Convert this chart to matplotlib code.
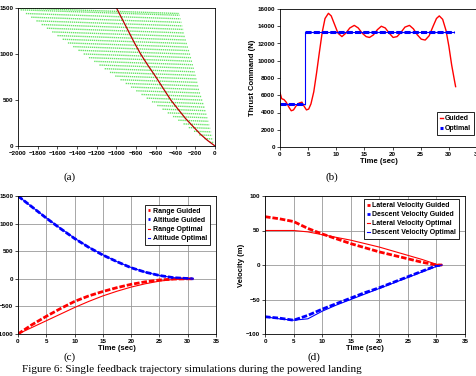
import matplotlib
matplotlib.use('Agg')
import matplotlib.pyplot as plt
import numpy as np

plt.rcParams['font.family'] = 'Liberation Sans'
plt.rcParams['font.size'] = 5
plt.rcParams['font.weight'] = 'bold'

# (a) glide-slope cone and trajectory
cone_top = 1500
cone_left_top = -2000
cone_right_top = -380
stripe_alt = [40, 80, 120, 160, 200, 240, 280, 320, 360, 400, 440, 480, 520,
              560, 600, 640, 680, 720, 760, 800, 840, 880, 920, 960, 1000,
              1040, 1080, 1120, 1160, 1200, 1240, 1280, 1320, 1360, 1400,
              1440, 1480, 1500]
traj_x = [-1000, -940, -880, -820, -755, -680, -600, -525, -449, -375, -300, -225, -150, -75, 0]
traj_y = [1500, 1375, 1250, 1125, 1000, 875, 750, 625, 500, 400, 300, 215, 130, 60, 0]

# (b) thrust command
t_guided = [0, 0.3, 0.7, 1.1, 1.6, 2.0, 2.4, 2.9, 3.4, 3.9, 4.3, 4.7, 5.1, 5.5, 6.0,
            6.5, 7.0, 7.5, 8.0, 8.6, 9.1, 9.7, 10.3, 11.0, 11.7, 12.4, 13.2, 13.9,
            14.6, 15.3, 15.9, 16.6, 17.3, 18.0, 18.7, 19.4, 20.1, 20.8, 21.5, 22.2,
            23.0, 23.7, 24.4, 25.1, 25.8, 26.5, 27.2, 27.8, 28.3, 28.9, 29.5, 30.0,
            30.5, 31.0, 31.2]
f_guided = [6300, 5600, 5500, 5200, 4600, 4200, 4300, 4800, 5100, 5200, 4700, 4300,
            4400, 5000, 6400, 8600, 11000, 13300, 14900, 15500, 15200, 14200, 13200,
            12800, 13200, 13800, 14100, 13800, 13200, 12800, 12700, 13000, 13600,
            14000, 13800, 13200, 12700, 12800, 13300, 13900, 14100, 13700, 13000,
            12500, 12400, 12900, 14000, 14900, 15200, 14800, 13500, 11700, 9500,
            7700, 7000]
t_opt = [0, 4.5, 4.5, 31]
f_opt = [5000, 5000, 13300, 13300]

# (c) position
t_pos = [0, 2.5, 5, 7.5, 10, 12.5, 15, 17.5, 20, 22.5, 25, 27.5, 30, 31]
alt_guided = [1500, 1300, 1100, 910, 730, 570, 430, 310, 200, 120, 60, 20, 5, 0]
alt_opt = [1500, 1300, 1105, 915, 735, 575, 435, 310, 205, 120, 60, 20, 3, 0]
rng_guided = [-1000, -830, -680, -540, -410, -310, -230, -160, -100, -55, -22, -5, 0, 0]
rng_opt = [-1000, -880, -760, -640, -520, -410, -310, -225, -150, -90, -42, -12, 0, 0]

# (d) velocity
t_vel = [0, 2.5, 5, 7.5, 10, 12.5, 15, 17.5, 20, 22.5, 25, 27.5, 30, 31]
lat_guided = [70, 67, 63, 53, 45, 38, 31, 25, 19, 14, 9, 4, 0, 0]
lat_opt = [50, 50, 50, 48, 44, 40, 36, 31, 26, 20, 14, 8, 1, 0]
desc_guided = [-75, -77, -80, -73, -64, -56, -48, -40, -33, -25, -17, -9, -1, 0]
desc_opt = [-75, -78, -80, -78, -67, -58, -50, -42, -34, -26, -18, -10, -2, 0]

dash = (0, (2.0, 0.7))

fig = plt.figure(figsize=(4.76, 3.76), dpi=100)

# ---- (a)
ax = fig.add_axes([18/476, 1-146/376, 197/476, 138/376])
for h in stripe_alt:
    x0 = cone_left_top * h / cone_top
    h1 = h * 0.96
    x1 = cone_right_top * h1 / cone_top
    ax.plot([x0, x1], [h, h1], color='#33dd33', lw=1.0, ls=(0, (1, 0.5)), alpha=0.75)
ax.plot(traj_x, traj_y, color='#bb0000', lw=0.9)
ax.set_xlim(-2000, 0)
ax.set_ylim(0, 1500)
ax.set_xticks(range(-2000, 1, 200))
ax.set_yticks([0, 500, 1000, 1500])
ax.set_ylabel('Altitude (m)', fontsize=5.5, fontweight='bold', labelpad=1)

# ---- (b)
ax = fig.add_axes([280/476, 1-147/376, 197/476, 138/376])
ax.plot(t_guided, f_guided, color='red', lw=1.0, label='Guided')
ax.plot(t_opt, f_opt, color='blue', lw=0.8)
ax.plot(t_opt[:2], f_opt[:2], color='blue', lw=2.2, ls=dash)
ax.plot(t_opt[2:], f_opt[2:], color='blue', lw=2.2, ls=dash, label='Optimal')
ax.set_xlim(0, 35)
ax.set_ylim(0, 16000)
ax.set_xticks(range(0, 36, 5))
ax.set_yticks(range(0, 16001, 2000))
ax.set_xlabel('Time (sec)', fontsize=5.5, fontweight='bold', labelpad=1)
ax.set_ylabel('Thrust Command (N)', fontsize=5.5, fontweight='bold', labelpad=1)
leg = ax.legend(loc='lower right', bbox_to_anchor=(1.0, 0.06), fontsize=5,
                handlelength=0.4, handletextpad=0.3, borderpad=0.4, labelspacing=0.5,
                fancybox=False, edgecolor='black', framealpha=1)
leg.get_frame().set_linewidth(0.6)

# ---- (c)
ax = fig.add_axes([18/476, 1-334/376, 198/476, 138/376])
ax.plot(t_pos, rng_guided, color='red', lw=2.0, ls=dash, label='Range Guided')
ax.plot(t_pos, alt_guided, color='blue', lw=2.0, ls=dash, label='Altitude Guided')
ax.plot(t_pos, rng_opt, color='red', lw=0.8, label='Range Optimal')
ax.plot(t_pos, alt_opt, color='blue', lw=0.8, label='Altitude Optimal')
ax.set_xlim(0, 35)
ax.set_ylim(-1000, 1500)
ax.set_xticks(range(0, 36, 5))
ax.set_yticks(range(-1000, 1501, 500))
ax.grid(True, color='#999999', lw=0.6)
ax.set_axisbelow(True)
ax.set_xlabel('Time (sec)', fontsize=5.5, fontweight='bold', labelpad=1)
ax.set_ylabel('Position (m)', fontsize=5.5, fontweight='bold', labelpad=1)
leg = ax.legend(loc='upper right', bbox_to_anchor=(0.985, 0.96), fontsize=5,
                handlelength=0.4, handletextpad=0.3, borderpad=0.4, labelspacing=0.3,
                fancybox=False, edgecolor='black', framealpha=1)
leg.get_frame().set_linewidth(0.6)

# ---- (d)
ax = fig.add_axes([265/476, 1-334/376, 200/476, 138/376])
ax.plot(t_vel, lat_guided, color='red', lw=2.0, ls=dash, label='Lateral Velocity Guided')
ax.plot(t_vel, desc_guided, color='blue', lw=2.0, ls=dash, label='Descent Velocity Guided')
ax.plot(t_vel, lat_opt, color='red', lw=0.8, label='Lateral Velocity Optimal')
ax.plot(t_vel, desc_opt, color='blue', lw=0.8, label='Descent Velocity Optimal')
ax.set_xlim(0, 35)
ax.set_ylim(-100, 100)
ax.set_xticks(range(0, 36, 5))
ax.set_yticks(range(-100, 101, 50))
ax.grid(True, color='#999999', lw=0.6)
ax.set_axisbelow(True)
ax.set_xlabel('Time (sec)', fontsize=5.5, fontweight='bold', labelpad=1)
ax.set_ylabel('Velocity (m)', fontsize=5.5, fontweight='bold', labelpad=1)
leg = ax.legend(loc='upper right', bbox_to_anchor=(0.985, 1.0), fontsize=5,
                handlelength=0.4, handletextpad=0.3, borderpad=0.4, labelspacing=0.3,
                fancybox=False, edgecolor='black', framealpha=1)
leg.get_frame().set_linewidth(0.6)

for a in fig.axes:
    a.tick_params(labelsize=4.5, length=2, width=0.5, pad=1.5)
    for s in a.spines.values():
        s.set_linewidth(0.6)

serif = dict(family='Liberation Serif', fontweight='normal', fontsize=8, ha='center')
fig.text(70/476, 1-177/376, '(a)', va='center', **serif)
fig.text(332/476, 1-177/376, '(b)', va='center', **serif)
fig.text(70/476, 1-357/376, '(c)', va='center', **serif)
fig.text(314/476, 1-357/376, '(d)', va='center', **serif)
fig.text(22/476, 1-369/376, 'Figure 6: Single feedback trajectory simulations during the powered landing',
         family='Liberation Serif', fontweight='normal', fontsize=8, ha='left', va='center')

fig.savefig('out.png', dpi=100)
